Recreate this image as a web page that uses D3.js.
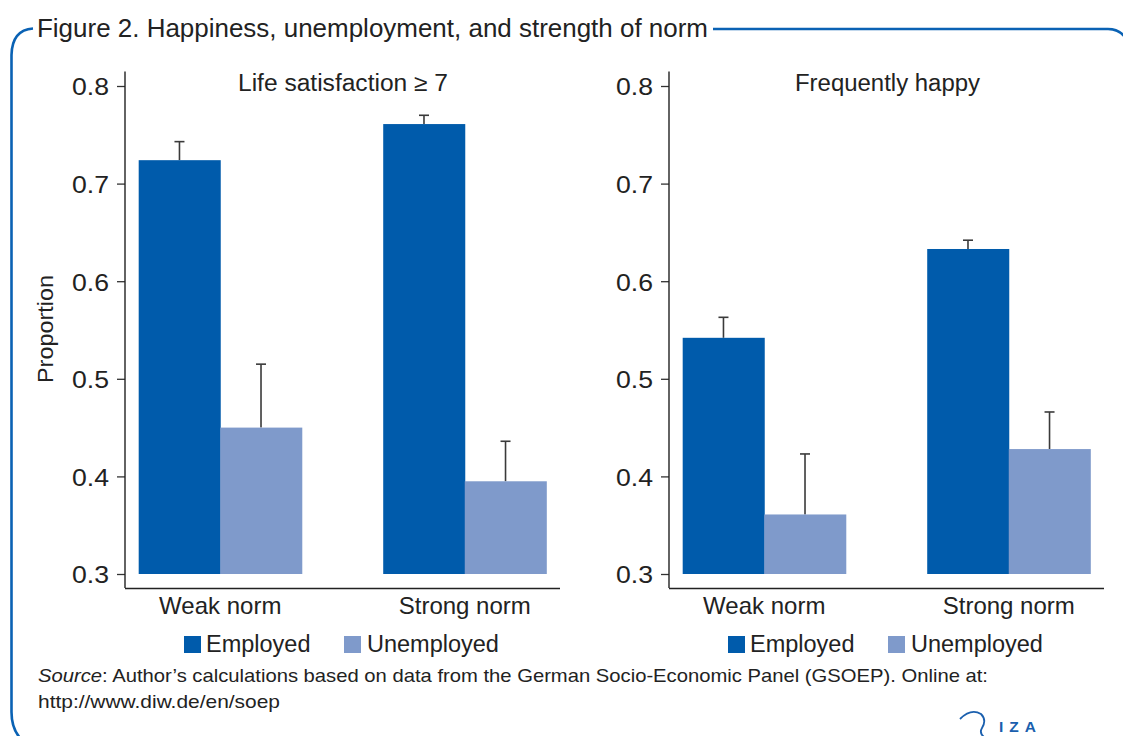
<!DOCTYPE html>
<html><head><meta charset="utf-8">
<script src="https://cdn.jsdelivr.net/npm/d3@7/dist/d3.min.js"></script>
<style>
html,body{margin:0;padding:0;background:#fff;}
text{font-family:"Liberation Sans",Arial,sans-serif;fill:#222;}
</style></head>
<body>
<svg id="chart" width="1123" height="736"></svg>
<script>
// ---- data ----
const categories = ["Weak norm", "Strong norm"];
const seriesNames = ["Employed", "Unemployed"];
const yTicks = [0.3, 0.4, 0.5, 0.6, 0.7, 0.8];
const lifeSatEmployed = [0.724, 0.761];
const lifeSatUnemployed = [0.450, 0.395];
const lifeSatEmployedHi = [0.743, 0.770];
const lifeSatUnemployedHi = [0.515, 0.436];
const happyEmployed = [0.542, 0.633];
const happyUnemployed = [0.361, 0.428];
const happyEmployedHi = [0.563, 0.642];
const happyUnemployedHi = [0.423, 0.466];
const panelTitles = ["Life satisfaction \u2265 7", "Frequently happy"];

const colors = {Employed: "#005bab", Unemployed: "#7f9acb"};
const svg = d3.select("#chart");

// frame
const frame = "#0a62b4";
svg.append("path")
  .attr("d", "M713,29 L1108,29 Q1118,29 1124,36")
  .attr("fill","none").attr("stroke",frame).attr("stroke-width",2.6);
svg.append("path")
  .attr("d", "M33,28.5 Q12,30 11.5,55 L11.5,712 Q11.5,730 22,740")
  .attr("fill","none").attr("stroke",frame).attr("stroke-width",2.6);

// title
svg.append("text").attr("x",37).attr("y",37).attr("font-size",25)
  .attr("textLength",671).attr("lengthAdjust","spacingAndGlyphs")
  .text("Figure 2. Happiness, unemployment, and strength of norm");

const y = d3.scaleLinear().domain([0.3, 0.8]).range([574, 86]);

function panel(x0, x1, title, titleLen, titleCx, emp, unemp, empHi, unempHi, showYLabel) {
  const g = svg.append("g");
  const x = d3.scaleBand().domain(categories).range([x0, x1]).paddingInner(0.333).paddingOuter(0.056);
  const xs = d3.scaleBand().domain(seriesNames).range([0, x.bandwidth()]);
  const rows = [];
  categories.forEach((c, i) => {
    rows.push({c, s: "Employed", v: emp[i], hi: empHi[i]});
    rows.push({c, s: "Unemployed", v: unemp[i], hi: unempHi[i]});
  });
  // error bars (upper part)
  rows.forEach(r => {
    const cx = x(r.c) + xs(r.s) + xs.bandwidth()/2;
    g.append("line").attr("x1",cx).attr("x2",cx).attr("y1",y(r.v)).attr("y2",y(r.hi))
      .attr("stroke","#3a3a3a").attr("stroke-width",1.6);
    g.append("line").attr("x1",cx-5).attr("x2",cx+5).attr("y1",y(r.hi)).attr("y2",y(r.hi))
      .attr("stroke","#3a3a3a").attr("stroke-width",1.6);
  });
  g.selectAll("rect.bar").data(rows).join("rect").attr("class","bar")
    .attr("x", d => x(d.c) + xs(d.s))
    .attr("width", xs.bandwidth() + 0.5)
    .attr("y", d => y(d.v))
    .attr("height", d => y(0.3) - y(d.v))
    .attr("fill", d => colors[d.s]);

  // y axis
  const ya = g.append("g").attr("transform",`translate(${x0},0)`)
    .call(d3.axisLeft(y).tickValues(yTicks).tickFormat(d3.format(".1f")).tickSize(8).tickPadding(8));
  ya.select(".domain").remove();
  ya.selectAll(".tick line").attr("stroke","#333").attr("stroke-width",1.3);
  ya.selectAll(".tick text").attr("font-size",24.5).attr("fill","#2a2a2a")
    .attr("textLength",37).attr("lengthAdjust","spacingAndGlyphs")
    .attr("font-family","Liberation Sans, Arial, sans-serif").attr("dy","0.36em");
  g.append("line").attr("x1",x0).attr("x2",x0).attr("y1",71.5).attr("y2",588)
    .attr("stroke","#222").attr("stroke-width",1.4);
  // x axis
  const xa = g.append("g").attr("transform","translate(0,588)")
    .call(d3.axisBottom(x).tickSize(0).tickPadding(9));
  xa.select(".domain").attr("d",`M${x0},0.5H${x1}`).attr("stroke","#222").attr("stroke-width",1.4);
  xa.selectAll(".tick text").attr("font-size",24).attr("fill","#222")
    .attr("font-family","Liberation Sans, Arial, sans-serif");
  // panel title
  g.append("text").attr("x",titleCx).attr("y",91).attr("text-anchor","middle")
    .attr("font-size",23.5).attr("textLength",titleLen).attr("lengthAdjust","spacingAndGlyphs").text(title);
  // legend
  const lg = g.append("g");
  const lx = x0 + 59;
  const items = [{s:"Employed", off:0, tx:22}, {s:"Unemployed", off:160, tx:23}];
  items.forEach(it => {
    lg.append("rect").attr("x",lx+it.off).attr("y",636).attr("width",17).attr("height",17).attr("fill",colors[it.s]);
    lg.append("text").attr("x",lx+it.off+it.tx).attr("y",652).attr("font-size",23.5).text(it.s);
  });
  if (showYLabel) {
    svg.append("text").attr("transform","translate(53,329) rotate(-90)")
      .attr("text-anchor","middle").attr("font-size",22)
      .attr("textLength",108).attr("lengthAdjust","spacingAndGlyphs").text("Proportion");
  }
}

panel(125, 560, panelTitles[0], 210, 343, lifeSatEmployed, lifeSatUnemployed, lifeSatEmployedHi, lifeSatUnemployedHi, true);
panel(669, 1104, panelTitles[1], 185, 887.5, happyEmployed, happyUnemployed, happyEmployedHi, happyUnemployedHi, false);

// source
const src = svg.append("text").attr("x",38).attr("y",682).attr("font-size",19)
  .attr("textLength",950).attr("lengthAdjust","spacingAndGlyphs");
src.append("tspan").attr("font-style","italic").text("Source");
src.append("tspan").text(": Author\u2019s calculations based on data from the German Socio-Economic Panel (GSOEP). Online at:");
svg.append("text").attr("x",38).attr("y",708).attr("font-size",19)
  .attr("textLength",242).attr("lengthAdjust","spacingAndGlyphs")
  .text("http://www.diw.de/en/soep");

// IZA logo
svg.append("path").attr("d","M960,719 Q971,708 981,714 Q987,720 982,728 Q979,733 984,737")
  .attr("fill","none").attr("stroke","#1a5fae").attr("stroke-width",1.8);
svg.append("text").attr("x",999).attr("y",732).attr("font-size",15.5).attr("font-weight","bold")
  .attr("letter-spacing",6).style("fill","#1a5fae").text("IZA");
</script>
</body></html>
